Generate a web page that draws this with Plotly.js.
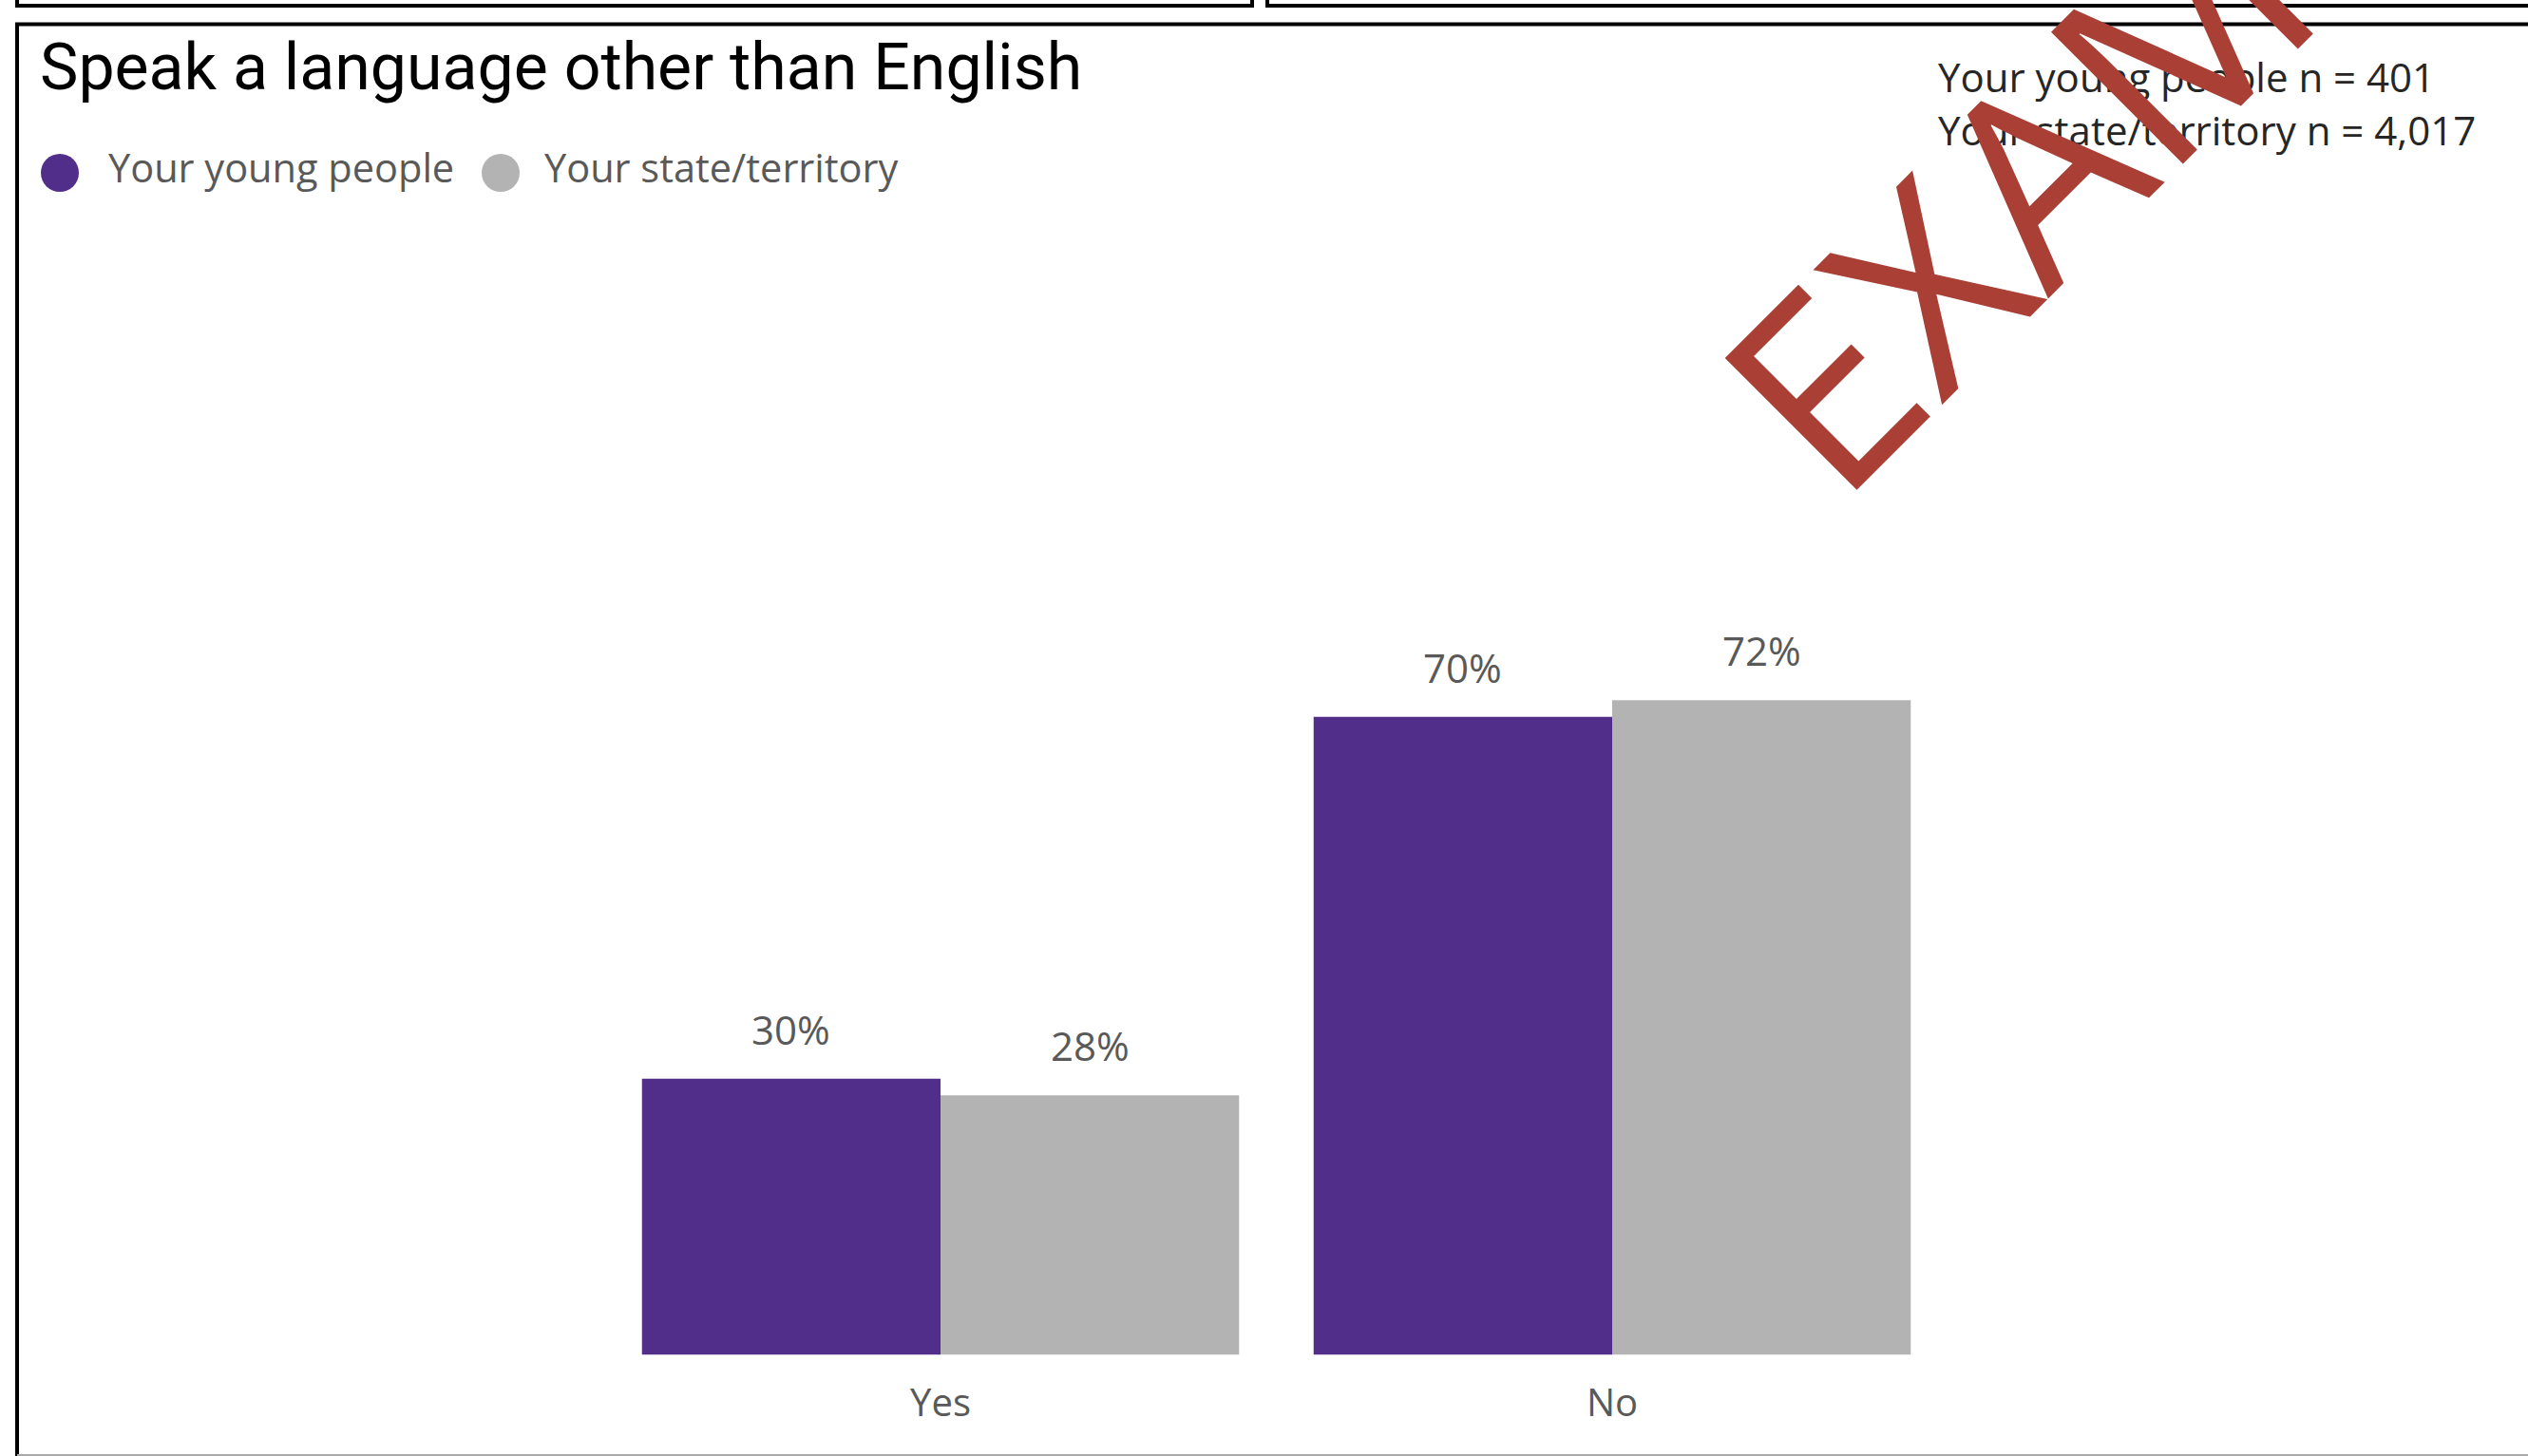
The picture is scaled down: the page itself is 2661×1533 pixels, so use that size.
<!DOCTYPE html>
<html>
<head>
<meta charset="utf-8">
<script src="https://cdn.plot.ly/plotly-3.0.1.min.js"></script>
<style>
  html, body { margin: 0; padding: 0; background: #ffffff; }
  #chart { width: 2661px; height: 1533px; }
</style>
</head>
<body>
<div id="chart"></div>
<script>
// ---- Data ----
const categories = ['Yes', 'No'];
const seriesNames = ['Your young people', 'Your state/territory'];
const youngPeople = [30.2, 69.8];
const stateTerritory = [28.4, 71.6];
const sampleSizes = ['401', '4,017'];
const chartTitle = 'Speak a language other than English';
const watermarkText = 'EXAMPLE';

// ---- Styles ----
const seriesColors = ['#522E8B', '#B3B3B3'];
const W = 2661, H = 1533;
const px = x => x / W;
const py = y => 1 - y / H;
const BARGAP = 0.111;
const labelFont = { family: 'Open Sans, sans-serif', size: 42, color: '#595959' };

const seriesValues = [youngPeople, stateTerritory];

const traces = seriesValues.map((vals, s) => ({
  type: 'bar',
  name: seriesNames[s],
  x: categories,
  y: vals,
  marker: { color: seriesColors[s], line: { width: 0 } },
  hoverinfo: 'skip',
  showlegend: false
}));

const annotations = [];

// data labels above each bar
const nS = seriesValues.length;
const barW = (1 - BARGAP) / nS;
seriesValues.forEach((vals, s) => {
  vals.forEach((v, i) => {
    annotations.push({
      xref: 'x', yref: 'y',
      x: i + (s - (nS - 1) / 2) * barW,
      y: v,
      text: Math.round(v) + '%',
      showarrow: false,
      xanchor: 'center', yanchor: 'bottom',
      yshift: 22,
      font: labelFont
    });
  });
});

// title
annotations.push({
  xref: 'paper', yref: 'paper',
  x: px(40), y: py(71),
  xanchor: 'left', yanchor: 'middle',
  text: chartTitle, showarrow: false,
  font: { family: 'Roboto, sans-serif', size: 68, weight: 400, color: '#000000' }
});

// legend (manual, big circles)
const legendCircleX = [63, 527];
const legendTextX = [112, 571];
const legendY = 182;
const shapes = [];
seriesNames.forEach((nm, s) => {
  shapes.push({
    type: 'circle', xref: 'paper', yref: 'paper',
    x0: px(legendCircleX[s] - 20), x1: px(legendCircleX[s] + 20),
    y0: py(legendY + 20), y1: py(legendY - 20),
    fillcolor: seriesColors[s], line: { width: 0 }
  });
  annotations.push({
    xref: 'paper', yref: 'paper',
    x: px(legendTextX[s]), y: py(176),
    xanchor: 'left', yanchor: 'middle',
    text: nm, showarrow: false,
    font: { family: 'Open Sans, sans-serif', size: 41.5, color: '#595959' }
  });
});

// sample sizes
const nLineY = [80, 136];
seriesNames.forEach((nm, s) => {
  annotations.push({
    xref: 'paper', yref: 'paper',
    x: px(2038), y: py(nLineY[s]),
    xanchor: 'left', yanchor: 'middle',
    text: nm + ' n = ' + sampleSizes[s], showarrow: false,
    font: { family: 'Open Sans, sans-serif', size: 42, color: '#262626' }
  });
});

// watermark
annotations.push({
  xref: 'paper', yref: 'paper',
  x: px(2282), y: py(37),
  xanchor: 'center', yanchor: 'middle',
  text: watermarkText, showarrow: false,
  textangle: -45,
  font: { family: 'Open Sans, sans-serif', size: 275, color: '#A93F35' }
});

// panel borders
const lineBlack = { color: '#000000', width: 4 };
shapes.push(
  // top-left panel (cut off)
  { type: 'path', xref: 'paper', yref: 'paper', layer: 'below',
    path: `M ${px(18)} ${py(-10)} L ${px(18)} ${py(6)} L ${px(1318)} ${py(6)} L ${px(1318)} ${py(-10)}`,
    line: lineBlack },
  // top-right panel (cut off)
  { type: 'path', xref: 'paper', yref: 'paper', layer: 'below',
    path: `M ${px(1334)} ${py(-10)} L ${px(1334)} ${py(6)} L ${px(2700)} ${py(6)}`,
    line: lineBlack },
  // main panel
  { type: 'path', xref: 'paper', yref: 'paper', layer: 'below',
    path: `M ${px(18)} ${py(1540)} L ${px(18)} ${py(25.5)} L ${px(2700)} ${py(25.5)}`,
    line: lineBlack },
  { type: 'line', xref: 'paper', yref: 'paper', layer: 'below',
    x0: px(18), x1: px(2700), y0: py(1532), y1: py(1532),
    line: { color: '#AAAAAA', width: 2 } }
);

const layout = {
  width: W, height: H,
  margin: { l: 0, r: 0, t: 0, b: 0, pad: 0 },
  paper_bgcolor: '#ffffff',
  plot_bgcolor: 'rgba(0,0,0,0)',
  barmode: 'group',
  bargap: BARGAP,
  bargroupgap: 0,
  showlegend: false,
  xaxis: {
    type: 'category',
    domain: [px(636.5), px(2050.5)],
    range: [-0.5, 1.5],
    showgrid: false, zeroline: false, showline: false,
    ticks: '',
    ticklabelstandoff: 23,
    tickfont: { family: 'Open Sans, sans-serif', size: 40, color: '#595959' },
    fixedrange: true
  },
  yaxis: {
    domain: [py(1426.5), py(464)],
    range: [0, 100],
    visible: false,
    fixedrange: true
  },
  shapes: shapes,
  annotations: annotations
};

Plotly.newPlot('chart', traces, layout, { displayModeBar: false, staticPlot: true });
</script>
</body>
</html>
